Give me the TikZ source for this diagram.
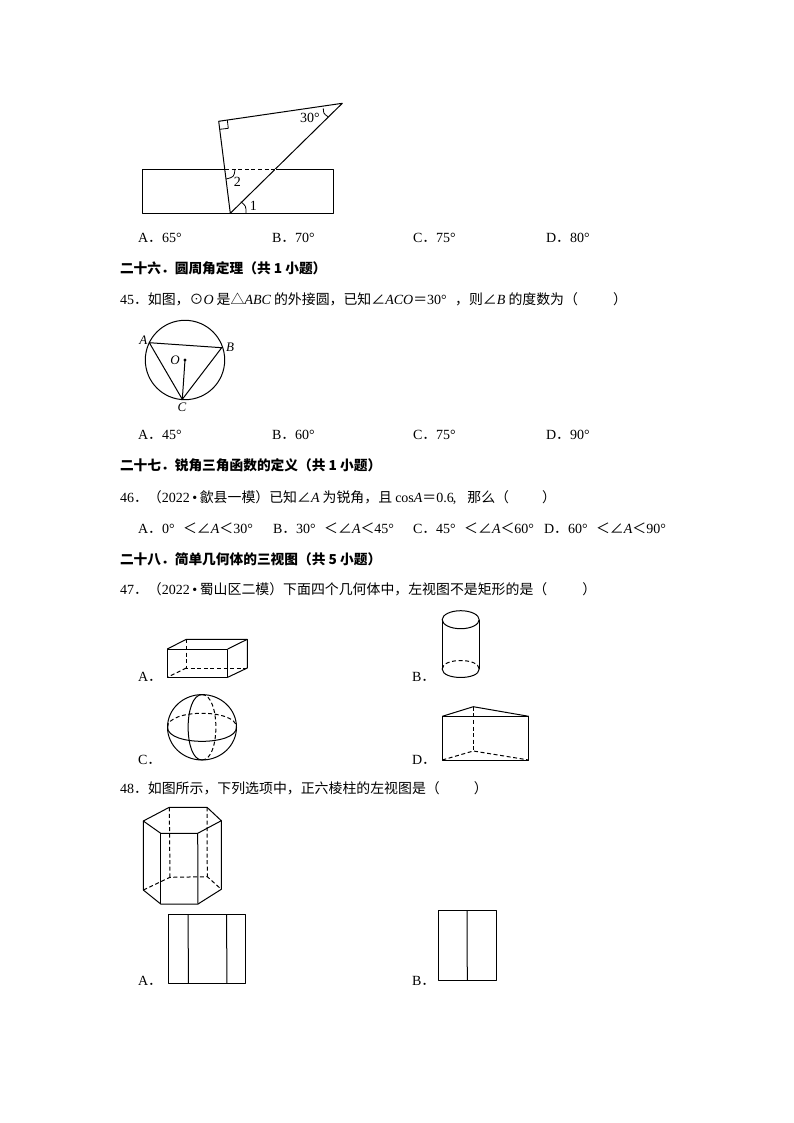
\documentclass[tikz,border=0pt]{standalone}
\usepackage{fontspec}
\setmainfont{Noto Sans CJK SC}
\newfontfamily\ita{Liberation Serif}
\newcommand{\m}[1]{{\ita\fontsize{14}{14}\selectfont #1}}
\newcommand{\I}[1]{{\ita\itshape\fontsize{14}{14}\selectfont #1}}
\newcommand{\dg}{\makebox[14pt][l]{\ita\fontsize{14}{14}\selectfont °}}
\newcommand{\blt}{\makebox[10pt][c]{\ita\fontsize{14}{14}\selectfont •}}
\tikzset{
  x=1pt,y=-1pt,
  tx/.style={anchor=base west,inner sep=0pt,outer sep=0pt,font=\fontsize{13.9}{14}\selectfont,text=black},
  hd/.style={tx,font=\fontsize{13.7}{14}\selectfont\bfseries},
  lab/.style={inner sep=0pt,font=\ita\fontsize{14}{14}\selectfont,text=black},
  ilab/.style={inner sep=0pt,font=\ita\itshape\fontsize{13}{14}\selectfont,text=black},
  ln/.style={draw=black,line width=1pt,line join=round},
  dsh/.style={draw=black,line width=1pt,dash pattern=on 4pt off 2.6pt},
  thn/.style={draw=black,line width=0.8pt}
}
\begin{document}
\begin{tikzpicture}
\useasboundingbox (0,0) rectangle (794,1123);
\fill[white] (0,0) rectangle (794,1123);

% triangle on strip
\coordinate (R) at (218.7,121.3);
\coordinate (T) at (342.3,103.3);
\coordinate (P) at (230.3,213.3);
\coordinate (L) at (225,169.3);
\coordinate (M) at (275.7,169.3);
\draw[ln] (142.3,169.3) rectangle (333.3,213.3);
\draw[ln] (R) -- (T) -- (P) -- cycle;
\draw[white,line width=1.5pt] (L) -- (M);
\draw[dsh] (L) -- (M);
\draw[thn] (227.3,120) -- (228.3,128.3) -- (220,129.3);
\draw[thn] (323.3,108.3) .. controls (323.5,113.5) .. (328,116.7);
\draw[thn] (246,213.3) .. controls (246,206) .. (240.8,201.7);
\draw[thn] (235,169.3) .. controls (234,177) .. (226,179);
\node[lab] (t30) at (310,118) {30°};
\node[lab] (t2) at (237.3,181.5) {2};
\node[lab] (t1) at (253.3,206) {1};

\node[tx] (o1a) at (138,242) {\m{A}．\m{65}\dg};
\node[tx] (o1b) at (272,242) {\m{B}．\m{70}\dg};
\node[tx] (o1c) at (413,242) {\m{C}．\m{75}\dg};
\node[tx] (o1d) at (546,242) {\m{D}．\m{80}\dg};

\node[hd] (h26) at (120,273) {二十六．圆周角定理（共 1 小题）};
\node[tx] (q45) at (120,304) {\m{45}．如图，⊙\I{O} 是△\I{ABC} 的外接圆，已知∠\I{ACO}＝\m{30}\dg，则∠\I{B} 的度数为（\hspace{35pt}）};

% circle
\coordinate (O) at (185,360);
\coordinate (A) at (149.3,342.7);
\coordinate (B) at (221.7,347.7);
\coordinate (C) at (182.3,399.3);
\draw[ln] (O) circle[radius=39.7];
\draw[ln] (A) -- (B) -- (C) -- cycle;
\draw[ln] (O) -- (C);
\fill (O) circle[radius=1.7];
\node[ilab] (lA) at (143.3,340) {A};
\node[ilab] (lB) at (230,347.7) {B};
\node[ilab] (lO) at (175,360.7) {O};
\node[ilab] (lC) at (182,407.3) {C};

\node[tx] (o2a) at (138,439) {\m{A}．\m{45}\dg};
\node[tx] (o2b) at (272,439) {\m{B}．\m{60}\dg};
\node[tx] (o2c) at (413,439) {\m{C}．\m{75}\dg};
\node[tx] (o2d) at (546,439) {\m{D}．\m{90}\dg};

\node[hd] (h27) at (120,470) {二十七．锐角三角函数的定义（共 1 小题）};
\node[tx] (q46) at (120,502) {\m{46}．（\m{2022}\blt 歙县一模）已知∠\I{A} 为锐角，且 \m{cos}\I{A}＝\m{0.6}\hspace{-1pt}\m{,}\hspace{11pt}那么（\hspace{33pt}）};
\node[tx] (o3a) at (138,533) {\m{A}．\m{0}\dg＜∠\I{A}＜\m{30}\dg};
\node[tx] (o3b) at (273,533) {\m{B}．\m{30}\dg＜∠\I{A}＜\m{45}\dg};
\node[tx] (o3c) at (413,533) {\m{C}．\m{45}\dg＜∠\I{A}＜\m{60}\dg};
\node[tx] (o3d) at (544,533) {\m{D}．\m{60}\dg＜∠\I{A}＜\m{90}\dg};

\node[hd] (h28) at (120,564) {二十八．简单几何体的三视图（共 5 小题）};
\node[tx] (q47) at (120,594) {\m{47}．（\m{2022}\blt 蜀山区二模）下面四个几何体中，左视图不是矩形的是（\hspace{35pt}）};

% box A
\draw[ln] (167.3,649) rectangle (227.7,677.3);
\draw[ln] (167.3,649) -- (186.3,639.3) -- (247.3,639.3) -- (247.3,668) -- (227.7,677.3);
\draw[ln] (227.7,649) -- (247.3,639.3);
\draw[dsh] (186.3,639.3) -- (186.3,668) -- (247.3,668);
\draw[dsh] (186.3,668) -- (167.3,677.3);
\node[tx] (a47) at (138,681.5) {\m{A}．};

% cylinder B
\draw[ln] (460.7,619.7) ellipse[x radius=18.5,y radius=9];
\draw[ln] (442.2,619.7) -- (442.2,669);
\draw[ln] (479.2,619.7) -- (479.2,669);
\draw[ln] (442.2,669) .. controls (442.2,680.3) and (479.2,680.3) .. (479.2,669);
\draw[dsh] (442.2,669) .. controls (442.2,657.7) and (479.2,657.7) .. (479.2,669);
\node[tx] (b47) at (412,681.5) {\m{B}．};

% sphere C
\draw[ln] (202,727.3) ellipse[x radius=34.5,y radius=32.7];
\draw[ln] (167.5,727.3) .. controls (167.5,746) and (236.5,746) .. (236.5,727.3);
\draw[dsh] (167.5,727.3) .. controls (167.5,708.6) and (236.5,708.6) .. (236.5,727.3);
\draw[ln] (202,694.6) .. controls (183.5,694.6) and (183.5,760) .. (202,760);
\draw[dsh] (202,694.6) .. controls (220.5,694.6) and (220.5,760) .. (202,760);
\node[tx] (c47) at (138,764.5) {\m{C}．};

% prism D
\draw[ln] (442.3,716.3) rectangle (528.7,760);
\draw[ln] (442.3,716.3) -- (473.3,706.7) -- (528.7,716.3);
\draw[dsh] (473.3,706.7) -- (473.3,751);
\draw[dsh] (442.3,760) -- (473.3,751) -- (528.7,760);
\node[tx] (d47) at (412,764.5) {\m{D}．};

\node[tx] (q48) at (120,793) {\m{48}．如图所示，下列选项中，正六棱柱的左视图是（\hspace{34pt}）};

% hexagonal prism
\draw[ln] (169.3,807.3) -- (207,807.3) -- (221.3,820.7) -- (197.7,833.3) -- (160.7,833.3) -- (143.3,821) -- cycle;
\draw[ln] (143.3,821) -- (143.3,890) -- (160.7,904) -- (198,904) -- (221.3,889.3) -- (221.3,820.7);
\draw[ln] (160.7,833.3) -- (160.7,904);
\draw[ln] (197.7,833.3) -- (198,904);
\draw[dsh] (169.3,807.3) -- (170,877.3);
\draw[dsh] (207,807.3) -- (207.3,876.7);
\draw[dsh] (143.3,890) -- (170,877.3) -- (207.3,876.7) -- (221.3,889.3);

% answer A
\draw[ln] (168.3,914) rectangle (245.7,983.7);
\draw[ln] (188,914) -- (188.5,983.7);
\draw[ln] (226.5,914) -- (227,983.7);
\node[tx] (a48) at (138,985.5) {\m{A}．};

% answer B
\draw[ln] (438.3,910.7) rectangle (496.3,980.3);
\draw[ln] (467,910.7) -- (467.3,980.3);
\node[tx] (b48) at (412,985.5) {\m{B}．};
\end{tikzpicture}
\end{document}
